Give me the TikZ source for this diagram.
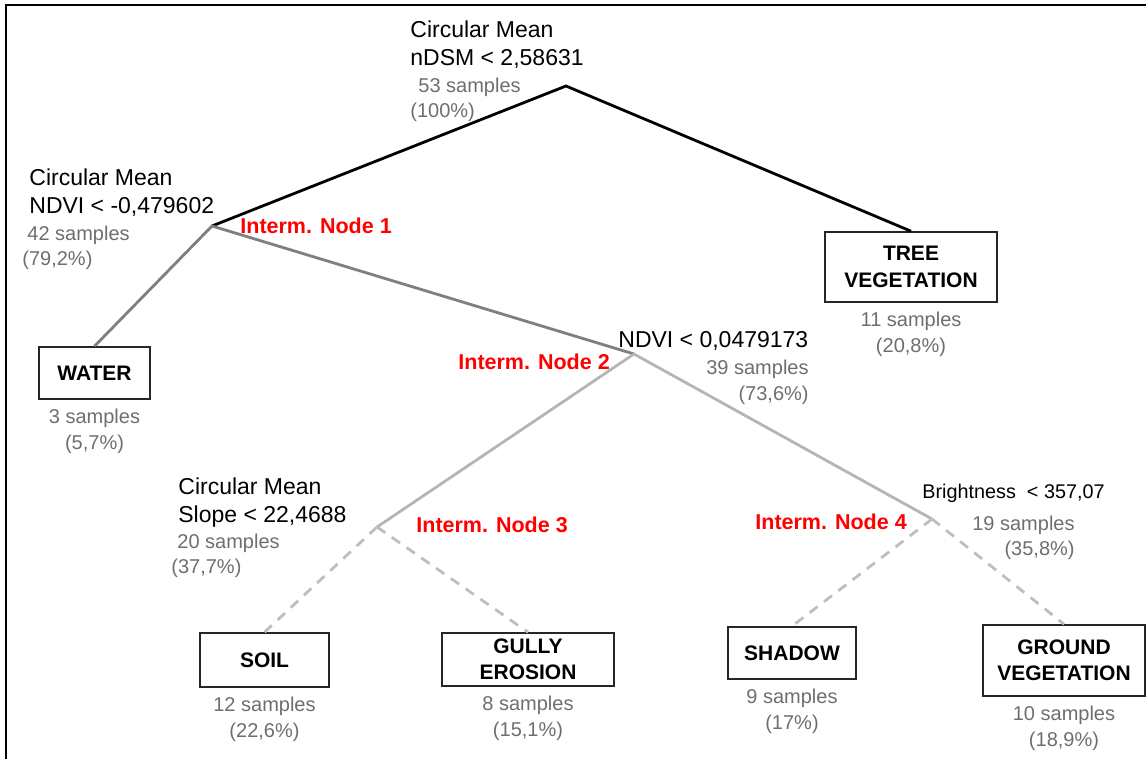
\documentclass[tikz,border=0pt]{standalone}
\usepackage{fontspec}
\setmainfont{Liberation Sans}
\usepackage{tikz}
\usetikzlibrary{positioning}
\definecolor{midline}{HTML}{7F7F7F}
\definecolor{lightline}{HTML}{B5B5B5}
\definecolor{dashline}{HTML}{BEBEBE}
\definecolor{countgray}{HTML}{6E6E6E}
\definecolor{tagred}{HTML}{FF0000}

\begin{document}
\begin{tikzpicture}[x=0.5pt, y=-0.5pt]
	\tikzstyle{leaf_style}=[rectangle, draw=black!85, line width=0.8pt, align=center, inner sep=0pt, font=\bfseries\fontsize{10.5}{13.25}\selectfont]
	\tikzstyle{rule_style}=[anchor=north west, align=left, inner sep=0pt, font=\fontsize{11.5}{14}\selectfont]
	\tikzstyle{count_style}=[align=center, inner sep=0pt, text=countgray, font=\fontsize{10}{12.75}\selectfont]
	\tikzstyle{tag_style}=[anchor=west, inner sep=0pt, text=tagred, font=\bfseries\fontsize{10.75}{13}\selectfont]
	\tikzstyle{branch_style}=[line width=1.4pt]
	\useasboundingbox (0,0) rectangle (1146,759);
	% frame
	\draw[line width=1.2pt] (6,759) -- (6,5) -- (1146,5);
	% split points
	\coordinate (root) at (566,86);
	\coordinate (n1) at (212,226);
	\coordinate (n2) at (634,354);
	\coordinate (n3) at (377,527);
	\coordinate (n4) at (932,519);
	% leaves
	\node at (911,267) [leaf_style, minimum width=86pt, minimum height=35pt] (tree) {TREE\\VEGETATION};
	\node at (94.5,373) [leaf_style, minimum width=55.5pt, minimum height=26pt] (water) {WATER};
	\node at (264.5,660) [leaf_style, minimum width=64.5pt, minimum height=27pt] (soil) {SOIL};
	\node at (528,659.5) [leaf_style, minimum width=86pt, minimum height=26.5pt] (gully) {GULLY\\EROSION};
	\node at (792,653) [leaf_style, minimum width=64pt, minimum height=26pt] (shadow) {SHADOW};
	\node at (1064,660.5) [leaf_style, minimum width=81pt, minimum height=35.5pt] (ground) {GROUND\\VEGETATION};
	% samples below the leaves
	\foreach \leaf/\txt in {tree/{11 samples\\(20,8\%)}, water/{3 samples\\(5,7\%)}, soil/{12 samples\\(22,6\%)}, gully/{8 samples\\(15,1\%)}, shadow/{9 samples\\(17\%)}, ground/{10 samples\\(18,9\%)}}
		\node [below=4.5pt of \leaf, count_style] (\leaf_count) {\txt};
	% root
	\node at (410,20) [rule_style] (root_rule) {Circular Mean\\nDSM < 2,58631};
	\node at (410,77.5) [count_style, anchor=north west, align=left] (root_count) {\hspace*{4pt}53 samples\\(100\%)};
	% node 1
	\node at (29,168) [rule_style] (n1_rule) {Circular Mean\\NDVI < -0,479602};
	\node at (22,225.5) [count_style, anchor=north west, align=left] (n1_count) {\hspace*{2.5pt}42 samples\\(79,2\%)};
	\node at (240,226) [tag_style] (n1_tag) {Interm. Node 1};
	% node 2
	\node at (618,331) [rule_style] (n2_rule) {NDVI < 0,0479173};
	\node at (809,360) [count_style, anchor=north east, align=right] (n2_count) {39 samples\\(73,6\%)};
	\node at (458,362) [tag_style] (n2_tag) {Interm. Node 2};
	% node 3
	\node at (178,477) [rule_style] (n3_rule) {Circular Mean\\Slope < 22,4688};
	\node at (171,533.5) [count_style, anchor=north west, align=left] (n3_count) {\hspace*{3pt}20 samples\\(37,7\%)};
	\node at (416,525) [tag_style] (n3_tag) {Interm. Node 3};
	% node 4
	\node at (922,484) [rule_style, font=\fontsize{9.9}{12}\selectfont] (n4_rule) {Brightness~ < 357,07};
	\node at (1075,515.5) [count_style, anchor=north east, align=right] (n4_count) {19 samples\\(35,8\%)};
	\node at (755,522) [tag_style] (n4_tag) {Interm. Node 4};
	% connect: splits -> leaves
	\draw[branch_style, black] (n1) -- (root) -- (tree.north);
	\draw[branch_style, midline] (water.north) -- (n1) -- (n2);
	\draw[branch_style, lightline] (n3) -- (n2) -- (n4);
	\foreach \s/\t in {n3/soil, n3/gully, n4/shadow, n4/ground}
		\draw[branch_style, dashline, dash pattern=on 5pt off 4pt] (\s) -- (\t.north);
\end{tikzpicture}
\end{document}
